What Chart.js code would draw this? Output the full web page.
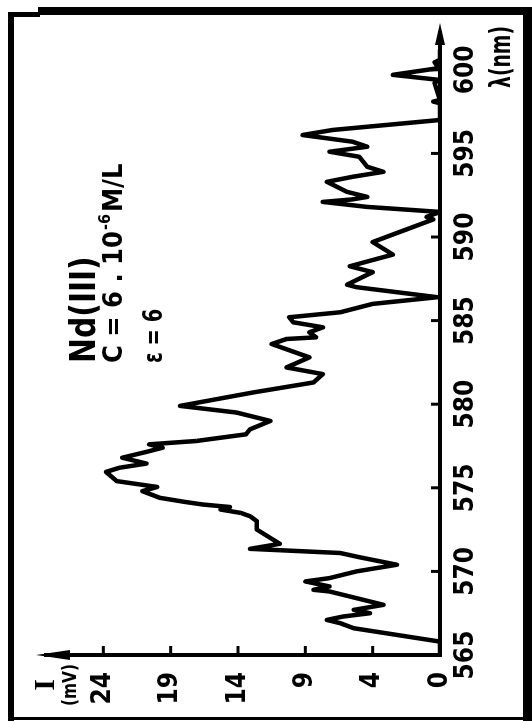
<!DOCTYPE html>
<html><head><meta charset="utf-8">
<script src="https://cdn.jsdelivr.net/npm/chart.js@4/dist/chart.umd.min.js"></script>
<style>
html,body{margin:0;padding:0;background:#fff;width:532px;height:721px;overflow:hidden;}
#rot{position:absolute;left:0;top:0;width:721px;height:532px;transform-origin:0 0;transform:translate(0,721px) rotate(-90deg);}
.b{position:absolute;background:#000;}
</style></head><body>
<div id="rot"><canvas id="c" width="721" height="532"></canvas></div>
<div class="b" style="left:8px;top:12px;width:6px;height:709px"></div>
<div class="b" style="left:38px;top:7px;width:494px;height:8px"></div>
<div class="b" style="left:8px;top:12px;width:32px;height:5px"></div>
<div class="b" style="left:523px;top:7px;width:9px;height:714px"></div>
<div class="b" style="left:8px;top:717px;width:524px;height:3px"></div>
<script>
// wavelength (nm) and intensity (read on the drawn intensity scale)
const WAVELENGTH = [565.0,565.8,566.6,566.9,567.1,567.3,567.5,567.7,568.0,568.4,568.8,568.9,569.1,569.4,569.6,570.0,570.4,570.85,571.1,571.35,571.65,572.0,572.5,573.0,573.3,573.5,573.7,573.85,574.0,574.15,574.4,574.8,575.05,575.4,575.95,576.2,576.45,576.8,577.15,577.4,577.6,577.8,578.2,578.5,579.0,579.5,579.9,580.7,581.3,581.8,582.2,582.8,583.6,583.9,584.0,584.3,584.6,584.9,585.2,585.5,586.0,586.4,587.0,587.15,587.9,588.25,588.95,589.7,590.3,590.9,591.05,591.2,591.5,591.8,592.1,592.25,592.4,592.7,593.3,593.6,593.9,594.2,594.8,595.1,595.4,595.7,596.1,596.4,597.0,598.0,598.1,598.2,599.2,599.4,599.7,600.1,600.45,600.6,601.2];
const INTENSITY = [0,0,6.4,7.4,8.4,7.2,5.2,6.4,4.2,6.2,8.2,9.4,8.2,10.0,8.2,6.2,3.2,6.0,7.4,14.1,11.9,12.6,13.6,13.6,14.1,14.8,16.3,15.6,17.6,18.9,20.8,22.1,21.0,24.0,24.8,23.8,21.8,23.6,21.8,20.6,21.6,18.1,14.4,14.1,12.6,15.1,19.3,13.9,9.4,8.7,11.4,9.7,12.5,11.4,9.2,9.7,8.7,10.9,11.2,7.4,5.0,0.2,6.2,6.9,5.0,6.7,3.5,5.0,3.0,1.0,0.5,1.0,0,5.4,8.7,6.5,5.4,6.9,8.4,6.5,4.2,5.4,6.0,8.2,5.4,6.5,10.2,8.0,0,0,0.5,0,0.4,0.1,3.5,0.1,0.4,0,0];
const X_TICKS = [565,570,575,580,585,590,595,600];
const Y_TICK_POS = [0,5,10,15,20,25];
const Y_TICK_LABELS = ['0','4','9','14','19','24'];

const NARROW = '"Liberation Sans Narrow", "DejaVu Sans Condensed", sans-serif';

function txt(ctx, s, x, y, font, sx, align) {
  ctx.save(); ctx.translate(x, y); ctx.scale(sx, 1);
  ctx.font = font; ctx.textAlign = align || 'left'; ctx.textBaseline = 'alphabetic';
  ctx.fillText(s, 0, 0); const w = ctx.measureText(s).width * sx; ctx.restore(); return w;
}

const handAxes = {
  id:'handAxes',
  afterDatasetsDraw(chart){
    const ctx = chart.ctx, xs = chart.scales.x, ys = chart.scales.y, ca = chart.chartArea;
    const x0 = xs.getPixelForValue(565), y0 = ys.getPixelForValue(0);
    ctx.save();
    ctx.strokeStyle = '#000'; ctx.fillStyle = '#000'; ctx.lineWidth = 4; ctx.lineCap = 'square';
    ctx.beginPath(); ctx.moveTo(x0, y0); ctx.lineTo(ca.right - 10, y0); ctx.stroke();
    ctx.beginPath(); ctx.moveTo(x0, y0); ctx.lineTo(x0, ca.top + 10); ctx.stroke();
    ctx.beginPath(); ctx.moveTo(ca.right, y0); ctx.lineTo(ca.right - 22, y0 - 5); ctx.lineTo(ca.right - 22, y0 + 5); ctx.closePath(); ctx.fill();
    ctx.beginPath(); ctx.moveTo(x0, ca.top); ctx.lineTo(x0 - 5, ca.top + 34); ctx.lineTo(x0 + 5, ca.top + 34); ctx.closePath(); ctx.fill();
    ctx.lineWidth = 3; ctx.lineCap = 'butt';
    X_TICKS.forEach(v => { if (v === 565) return; const p = xs.getPixelForValue(v); ctx.beginPath(); ctx.moveTo(p, y0); ctx.lineTo(p, y0 - 9); ctx.stroke(); });
    Y_TICK_POS.forEach(v => { if (v === 0) return; const p = ys.getPixelForValue(v); ctx.beginPath(); ctx.moveTo(x0, p); ctx.lineTo(x0 + 9, p); ctx.stroke(); });
    // axis titles
    txt(ctx, 'λ(nm)', 633, 510, 'bold 29px ' + NARROW, 0.72, 'left');
    txt(ctx, 'I', 36, 54, 'bold 30px "Liberation Serif", serif', 1, 'center');
    txt(ctx, '(mV)', 36, 76, 'bold 19px ' + NARROW, 0.9, 'center');
    // annotations
    txt(ctx, 'Nd(III)', 358, 95, 'bold 36px ' + NARROW, 0.92, 'left');
    let x = 358;
    x += txt(ctx, 'C = 6 . 10', x, 122, 'bold 27px ' + NARROW, 1, 'left');
    x += txt(ctx, '-6', x + 1, 110, 'bold 16px ' + NARROW, 1, 'left') + 3;
    txt(ctx, 'M/L', x, 122, 'bold 27px ' + NARROW, 1, 'left');
    txt(ctx, 'ε = 6', 358, 162, 'bold 27px ' + NARROW, 0.8, 'left');
    ctx.restore();
  }
};

const tickFont = {family: NARROW, size: 26, weight: 'bold'};
new Chart(document.getElementById('c').getContext('2d'), {
  type: 'scatter',
  data: { datasets: [{
    data: WAVELENGTH.map((w, i) => ({x: w, y: INTENSITY[i]})),
    showLine: true, borderColor: '#000', backgroundColor: '#000', borderWidth: 4.5,
    pointRadius: 0, tension: 0, borderJoinStyle: 'round', borderCapStyle: 'round', fill: false
  }]},
  options: {
    responsive: false, animation: false, devicePixelRatio: 1,
    layout: {padding: {left: 0, right: 23, top: 36, bottom: 0}},
    plugins: {legend: {display: false}, tooltip: {enabled: false}},
    scales: {
      x: {type: 'linear', min: 565, max: 602.8,
        afterBuildTicks: s => { s.ticks = X_TICKS.map(v => ({value: v})); },
        afterFit: s => { s.height = 92; },
        grid: {display: false}, border: {display: false},
        ticks: {padding: 3, color: '#000', font: tickFont, autoSkip: false, maxRotation: 0, minRotation: 0}},
      y: {type: 'linear', min: 0, max: 30,
        afterBuildTicks: s => { s.ticks = Y_TICK_POS.map(v => ({value: v})); },
        afterFit: s => { s.width = 66; },
        grid: {display: false}, border: {display: false},
        ticks: {padding: 9, color: '#000', font: tickFont, autoSkip: false,
          callback: (v, i) => Y_TICK_LABELS[i]}}
    }
  },
  plugins: [handAxes]
});
</script>
</body></html>
